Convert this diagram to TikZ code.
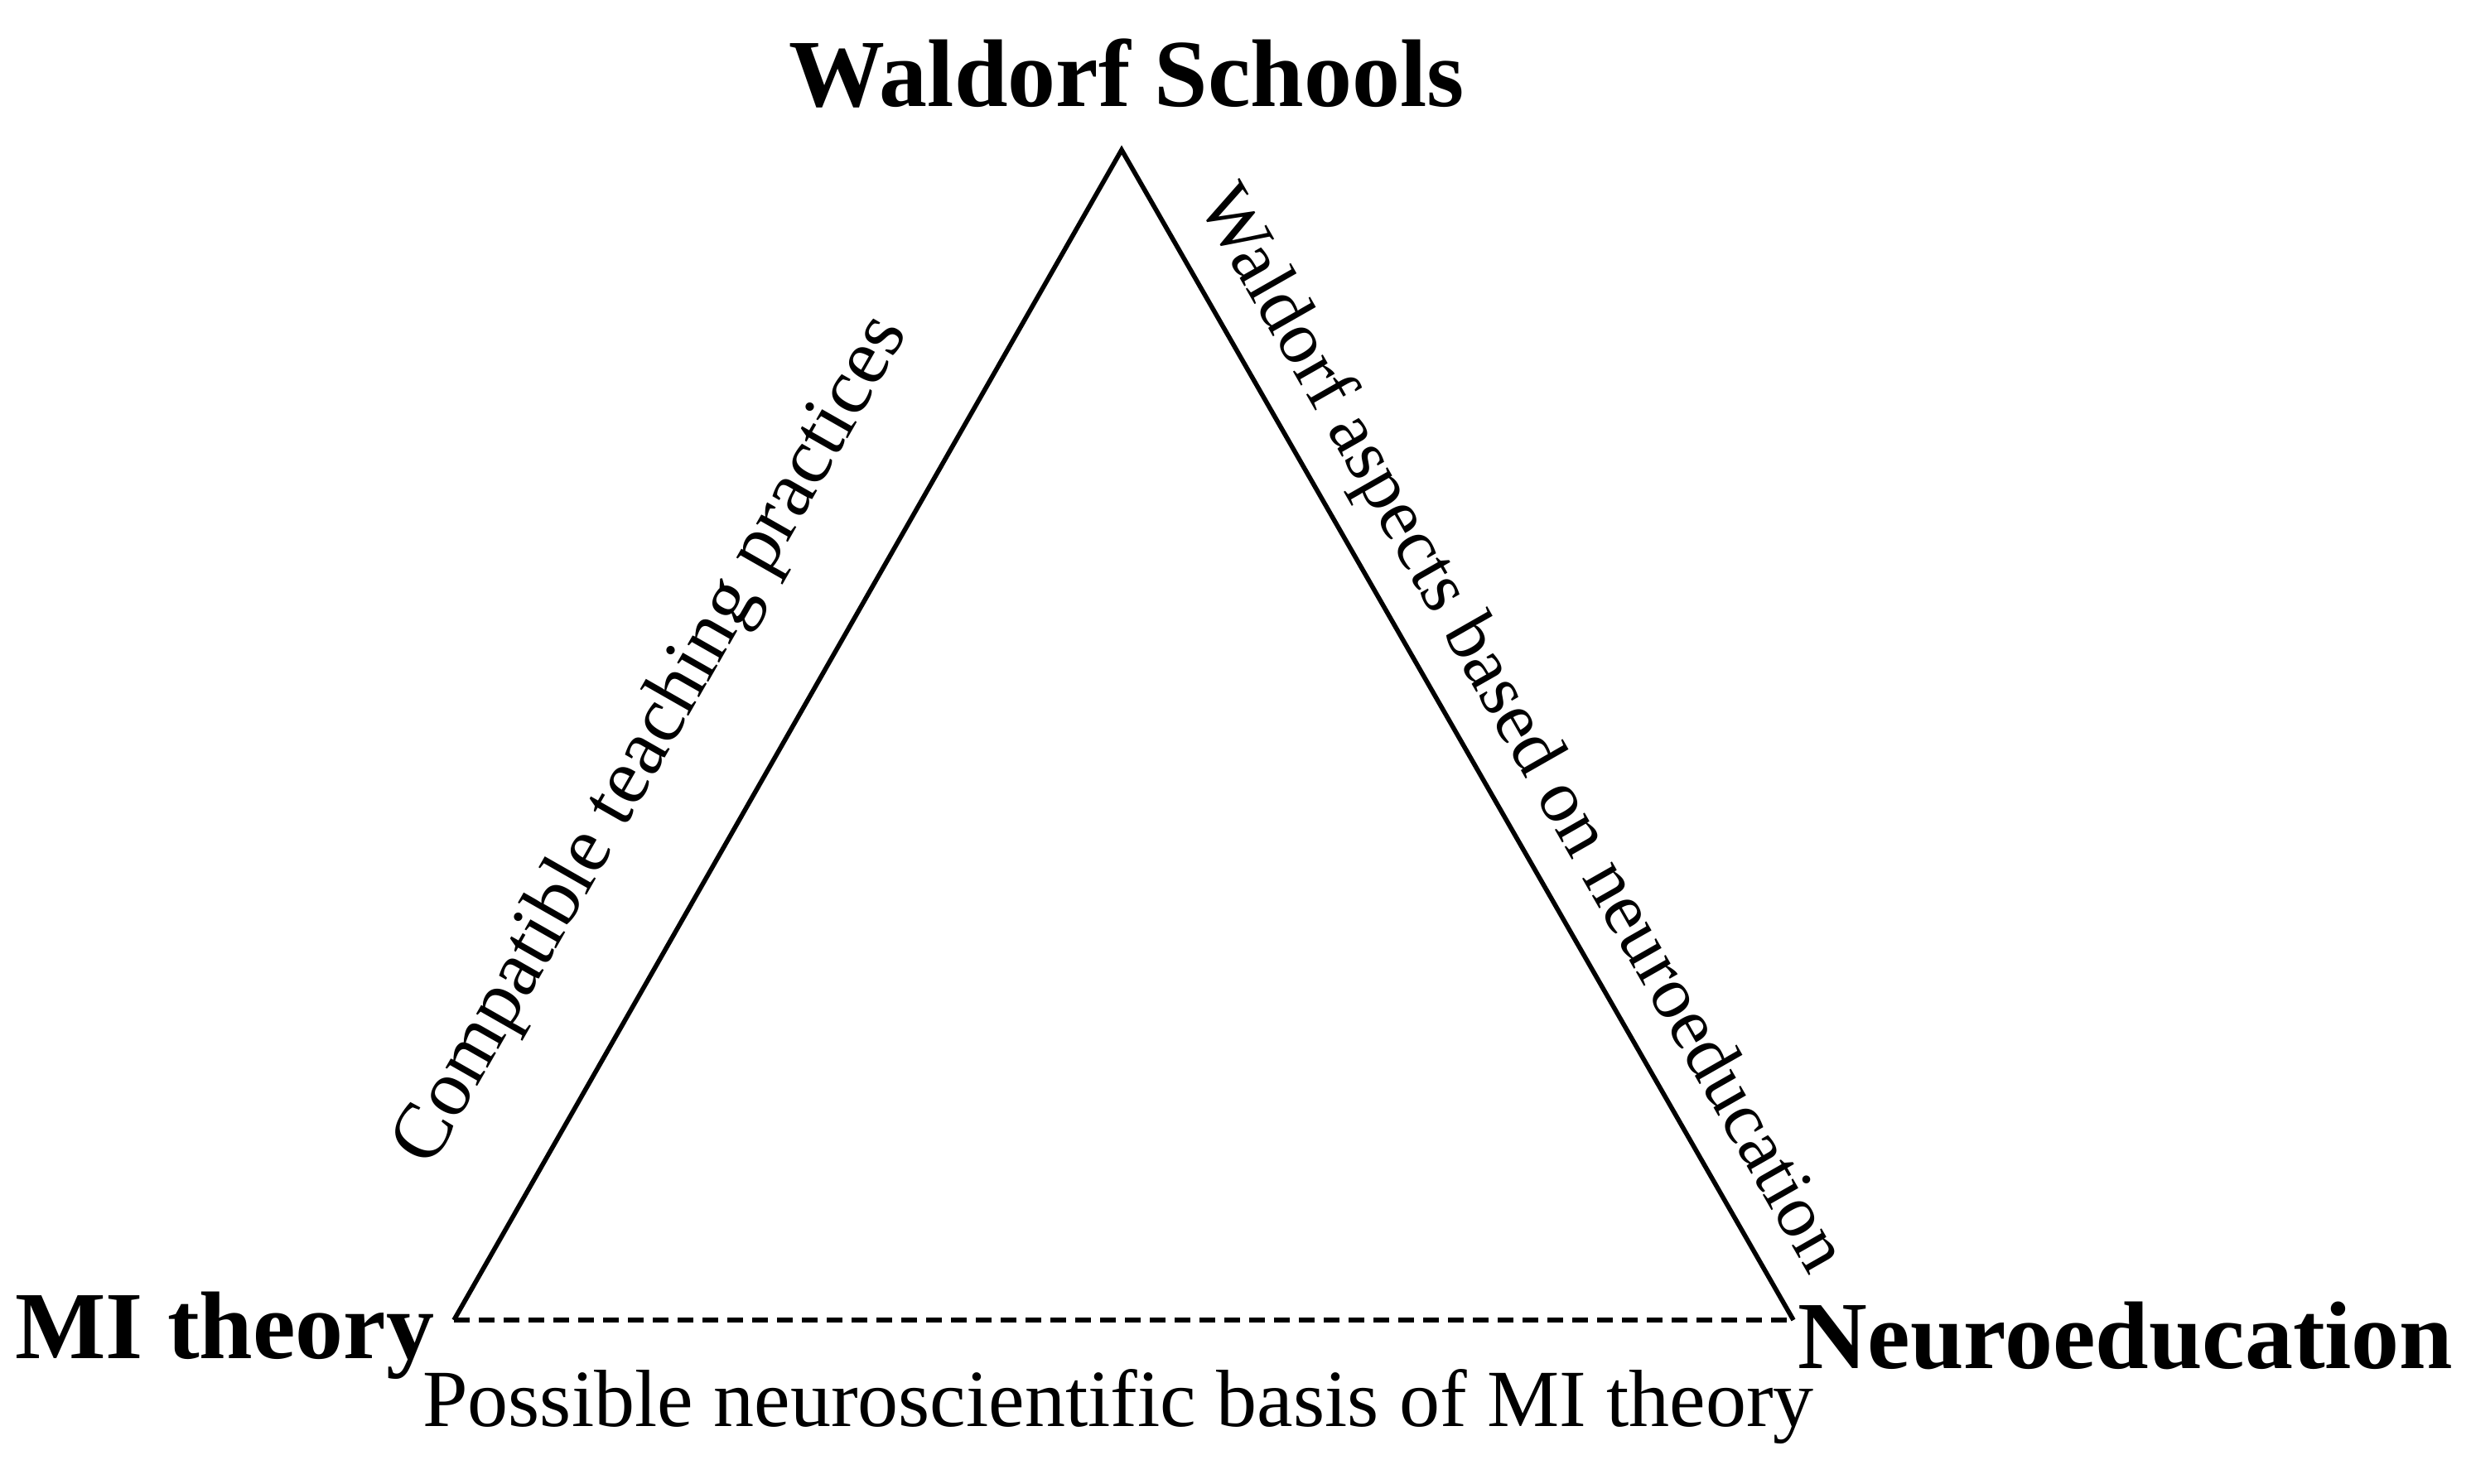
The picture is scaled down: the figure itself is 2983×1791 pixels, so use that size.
\documentclass[tikz,border=0pt]{standalone}
\usepackage{fontspec}
\setmainfont{Liberation Serif}
\begin{document}
\begin{tikzpicture}[x=0.25pt,y=-0.25pt,
  edge/.style={line width=1.4pt},
  dedge/.style={line width=1.4pt,dash pattern=on 4.75pt off 2.75pt},
  vert/.style={font=\fontsize{29}{32}\selectfont\bfseries,inner sep=0pt},
  lab/.style={font=\fontsize{24.5}{27}\selectfont,inner sep=0pt}]
\useasboundingbox (0,0) rectangle (2983,1791);
\coordinate (W) at (1354,181);
\coordinate (M) at (548,1594);
\coordinate (N) at (2165,1594);
\node[vert] (tw) at (1360,89) {Waldorf Schools};
\node[vert,anchor=east] (tm) at (525,1613) {MI theory};
\node[vert,anchor=west] (tn) at (2170,1613) {Neuroeducation};
\draw[edge] (M) -- (W) -- (N);
\draw[dedge] (M) -- (N);
\node[lab,rotate=60.3,font=\fontsize{24}{27}\selectfont] (l1) at (788,895) {Compatible teaching practices};
\node[lab,rotate=-60.3,font=\fontsize{22.5}{25}\selectfont] (l2) at (1834,882) {Waldorf aspects based on neuroeducation};
\node[lab] (l3) at (1350,1699) {Possible neuroscientific basis of MI theory};
\end{tikzpicture}
\end{document}
